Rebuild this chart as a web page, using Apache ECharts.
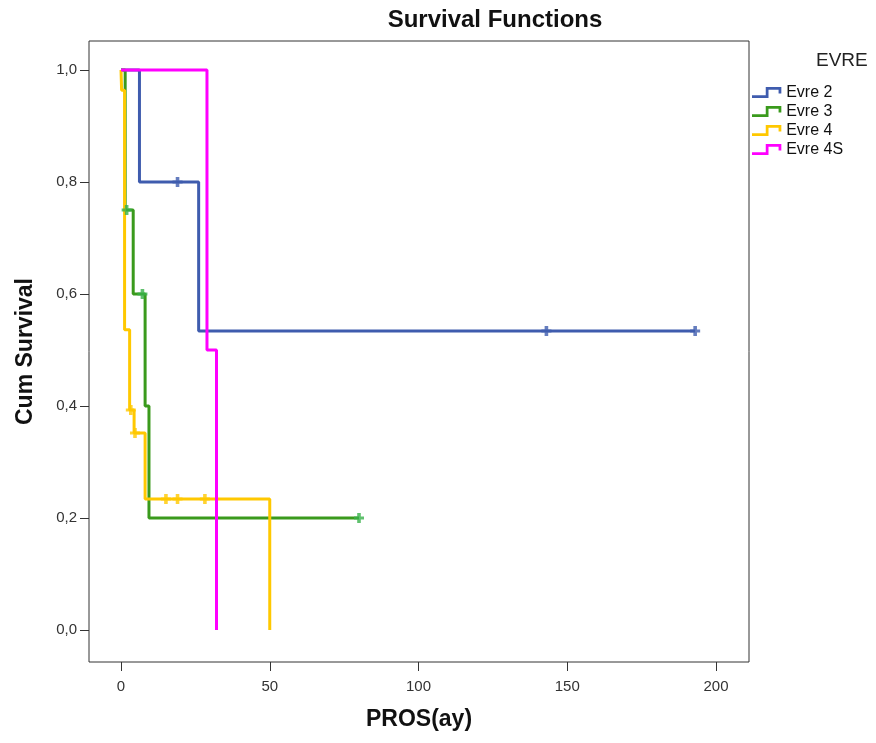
<!DOCTYPE html>
<html>
<head>
<meta charset="utf-8">
<script src="https://cdn.jsdelivr.net/npm/echarts@6/dist/echarts.min.js"></script>
<style>
html,body{margin:0;padding:0;background:#fff;}
#chart{width:876px;height:743px;}
</style>
</head>
<body>
<div id="chart"></div>
<script>
// ---- data ----
const groups = ['Evre 2', 'Evre 3', 'Evre 4', 'Evre 4S'];
const xTicks = [0, 50, 100, 150, 200];
const yTicks = [0, 0.2, 0.4, 0.6, 0.8, 1.0];

// step points (time, cumulative survival)
const evre2Times = [0, 6.2, 26.1, 193];
const evre2Surv  = [1, 0.8, 0.534, 0.534];
const evre3Times = [0, 1.4, 4.1, 8.1, 9.4, 80];
const evre3Surv  = [1, 0.75, 0.6, 0.4, 0.2, 0.2];
const evre4Times = [0, 0.2, 1.2, 2.9, 4.4, 8.1, 50];
const evre4Surv  = [1, 0.964, 0.536, 0.393, 0.352, 0.234, 0];
const evre4STimes = [0, 28.9, 32.1];
const evre4SSurv  = [1, 0.5, 0];

// censored observations
const evre2CensT = [19, 143, 193];
const evre2CensS = [0.8, 0.534, 0.534];
const evre3CensT = [1.9, 7.2, 80];
const evre3CensS = [0.75, 0.6, 0.2];
const evre4CensT = [3.3, 4.7, 15.1, 19.0, 28.2];
const evre4CensS = [0.393, 0.352, 0.234, 0.234, 0.234];
const evre4SCensT = [];
const evre4SCensS = [];

const colors = ['#3F5CAE', '#3A9A1C', '#FFC800', '#FF00FF'];
const censColors = ['#3F5CAE', '#38B24A', '#FFC800', '#FF00FF'];

const stepT = [evre2Times, evre3Times, evre4Times, evre4STimes];
const stepS = [evre2Surv, evre3Surv, evre4Surv, evre4SSurv];
const censT = [evre2CensT, evre3CensT, evre4CensT, evre4SCensT];
const censS = [evre2CensS, evre3CensS, evre4CensS, evre4SCensS];

const zip = (a, b) => a.map((v, i) => [v, b[i]]);
const plus = 'path://M-1.8,-5 L1.8,-5 L1.8,-1.5 L5,-1.5 L5,1.5 L1.8,1.5 L1.8,5 L-1.8,5 L-1.8,1.5 L-5,1.5 L-5,-1.5 L-1.8,-1.5 Z';
const stepIcon = 'path://M0,9 L15,9 L15,0 L32,0 L32,7 L29,7 L29,3 L18,3 L18,12 L0,12 Z';

const series = [];
groups.forEach((g, i) => {
  series.push({
    name: g, type: 'line', step: 'end', showSymbol: false, symbol: 'none',
    data: zip(stepT[i], stepS[i]),
    lineStyle: { color: colors[i], width: 3 },
    itemStyle: { color: colors[i] },
    z: 2 + (i === 3 ? 1 : 0),
    animation: false, silent: true
  });
  if (censT[i].length) {
    series.push({
      name: g, type: 'scatter', symbol: plus, symbolSize: [10, 10],
      data: zip(censT[i], censS[i]),
      itemStyle: { color: censColors[i] },
      z: 5, animation: false, silent: true
    });
  }
});

const chart = echarts.init(document.getElementById('chart'), null, { renderer: 'canvas' });
const fontFam = 'Liberation Sans, Arial, sans-serif';
chart.setOption({
  backgroundColor: '#fff',
  animation: false,
  color: colors,
  title: [
    { text: 'Survival Functions', left: 490, top: 3, textAlign: 'center',
      textStyle: { fontFamily: fontFam, fontSize: 24, fontWeight: 'bold', color: '#111' } },
    { text: 'EVRE', left: 811, top: 46,
      textStyle: { fontFamily: fontFam, fontSize: 19, fontWeight: 'normal', color: '#222' } }
  ],
  legend: {
    orient: 'vertical', left: 752, top: 83, padding: 0,
    itemWidth: 33, itemHeight: 11, itemGap: 0,
    textStyle: { fontFamily: fontFam, fontSize: 16, lineHeight: 19, color: '#111', padding: [0, 0, 0, -2] },
    data: groups.map((g, i) => ({ name: g, icon: stepIcon, itemStyle: { color: colors[i], borderWidth: 0 } }))
  },
  grid: { left: 89, right: 127, top: 41, bottom: 81, show: true, borderColor: '#333', borderWidth: 1, containLabel: false },
  xAxis: {
    type: 'value', min: -10.76, max: 211.1,
    name: 'PROS(ay)', nameLocation: 'middle', nameGap: 46,
    nameTextStyle: { fontFamily: fontFam, fontSize: 23, fontWeight: 'bold', color: '#111' },
    axisLine: { show: false, onZero: false },
    axisTick: { show: true, length: 9, lineStyle: { color: '#333' }, customValues: xTicks },
    axisLabel: { customValues: xTicks, fontFamily: fontFam, fontSize: 15, color: '#333', margin: 17 },
    splitLine: { show: false }
  },
  yAxis: {
    type: 'value', min: -0.0571, max: 1.0518,
    name: 'Cum Survival', nameLocation: 'middle', nameGap: 52, nameRotate: 90,
    nameTextStyle: { fontFamily: fontFam, fontSize: 23, fontWeight: 'bold', color: '#111' },
    axisLine: { show: false, onZero: false },
    axisTick: { show: true, length: 9, lineStyle: { color: '#333' }, customValues: yTicks },
    axisLabel: { customValues: yTicks, fontFamily: fontFam, fontSize: 15, color: '#333', margin: 12,
      formatter: v => v.toFixed(1).replace('.', ',') },
    splitLine: { show: false }
  },
  series: series
});
</script>
</body>
</html>
